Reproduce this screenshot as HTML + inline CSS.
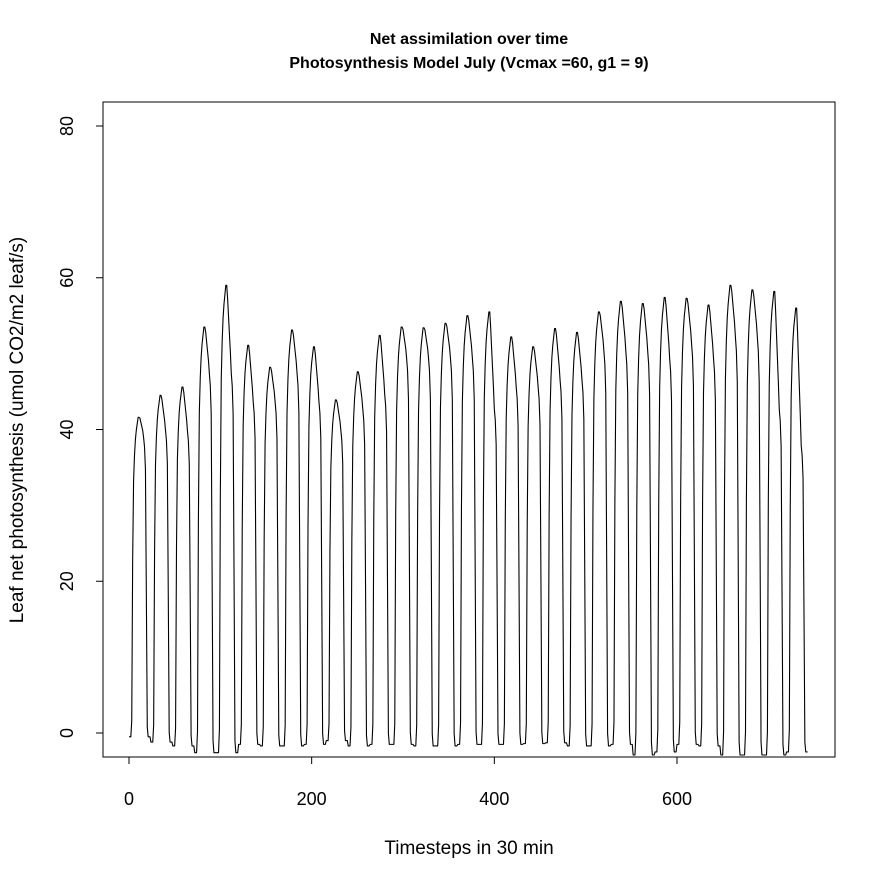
<!DOCTYPE html>
<html><head><meta charset="utf-8"><style>
body{margin:0;background:#fff}
svg{display:block;font-family:"Liberation Sans",Arial,sans-serif}
</style></head><body>
<svg id="chart" width="887" height="881" viewBox="0 0 887 881">
<rect width="887" height="881" fill="#fff"/>
<text x="469" y="44" text-anchor="middle" font-weight="bold" font-size="16">Net assimilation over time</text>
<text x="469" y="68" text-anchor="middle" font-weight="bold" font-size="16">Photosynthesis Model July (Vcmax =60, g1 = 9)</text>
<rect x="103" y="102" width="732" height="655" fill="none" stroke="#000" stroke-width="1"/>
<text x="469" y="854" text-anchor="middle" font-size="19">Timesteps in 30 min</text>
<text transform="translate(23,430) rotate(-90)" text-anchor="middle" font-size="19">Leaf net photosynthesis (umol CO2/m2 leaf/s)</text>
<g id="axes"></g>
<path id="series" fill="none" stroke="#000" stroke-width="1.1" stroke-linejoin="round"/>
</svg>
<script>
const xTicks=[0,200,400,600];
const yTicks=[0,20,40,60,80];
const dayPeaks=[41.6,44.5,45.6,53.5,59,51.1,48.2,53.1,50.9,43.9,47.6,52.4,53.5,53.4,54,55,55.5,52.2,50.9,53.3,52.8,55.5,56.9,56.6,57.4,57.3,56.4,59,58.4,58.2,56];
const dayLate=[41,42,42,50,50,46,46,50,46,42,45,47,52,52,52,52,45,48,48,49,49,53,53,53,52,54,52,55,55,45,40];
const nights=[-0.5,-1.2,-1.7,-2.6,-2.6,-1.5,-1.7,-1.7,-1.5,-1.0,-1.7,-1.5,-1.5,-1.7,-1.7,-1.5,-1.5,-1.5,-1.4,-1.3,-1.7,-1.7,-1.5,-2.9,-2.5,-1.5,-1.7,-2.9,-2.9,-2.9,-2.5];
const profile=[0,0,0,0.05,0.55,0.8,0.88,0.93,0.96,0.98,1,1,1,0.99,0.98,0.97,0.95,0.92,0.85,0.45,0.03,0,0,0];
const lateWeight=[0,0,0,0,0,0,0,0,0,0,0,0,0.2,0.4,0.6,0.8,1,1,1,1,1,0,0,0];

const X0=129,XS=(677-129)/600,Y0=733,YS=(733-126)/80;
const sx=v=>X0+v*XS, sy=v=>Y0-v*YS;
const NS='http://www.w3.org/2000/svg';
const axes=document.getElementById('axes');
function mk(tag,attrs){const e=document.createElementNS(NS,tag);for(const k in attrs)e.setAttribute(k,attrs[k]);axes.appendChild(e);return e;}
let l=mk('line',{x1:sx(0),x2:sx(600),y1:757,y2:757,stroke:'#000'});


xTicks.forEach(t=>{
 const tk=mk('line',{x1:sx(t),x2:sx(t),y1:757,y2:764,stroke:'#000'});
 
 
 const tx=mk('text',{x:sx(t),y:805,'text-anchor':'middle','font-size':'18'});tx.textContent=t;
 
 
});
l=mk('line',{x1:103,x2:103,y1:sy(0),y2:sy(80),stroke:'#000'});


yTicks.forEach(t=>{
 const tk=mk('line',{x1:96,x2:103,y1:sy(t),y2:sy(t),stroke:'#000'});
 
 
 const tx=mk('text',{transform:`translate(73,${sy(t)}) rotate(-90)`,'text-anchor':'middle','font-size':'18'});tx.textContent=t;
 
 
});
let d='';
for(let day=0;day<dayPeaks.length;day++){
 for(let h=0;h<24;h++){
  const i=day*24+h; if(i>743)break;
  const top=dayPeaks[day]*(1-lateWeight[h])+dayLate[day]*lateWeight[h];
  const v=nights[day]+profile[h]*(top-nights[day]);
  d+=(i?'L':'M')+sx(i).toFixed(2)+','+sy(v).toFixed(2);
 }
}
document.getElementById('series').setAttribute('d',d);
</script>
</body></html>
